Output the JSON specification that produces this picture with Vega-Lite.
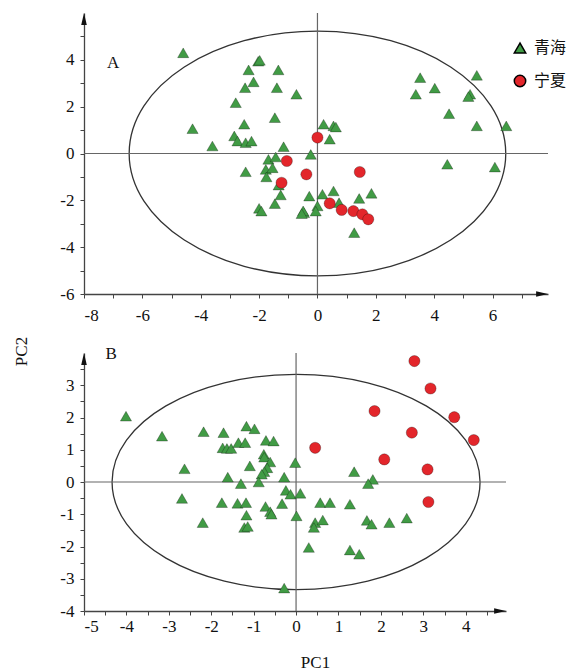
{
  "$schema": "https://vega.github.io/schema/vega-lite/v6.json",
  "background": "white",
  "padding": {"left": 12, "top": 12, "right": 5, "bottom": 2},
  "autosize": {"type": "pad"},
  "spacing": 59,
  "bounds": "flush",
  "config": {
    "view": {"stroke": null},
    "font": "Liberation Serif",
    "axis": {
      "grid": false,
      "domainColor": "#444",
      "domainWidth": 1.3,
      "tickColor": "#444",
      "tickWidth": 1,
      "tickSize": 4,
      "labelOverlap": false,
      "labelFont": "Liberation Serif",
      "labelFontSize": 17,
      "labelColor": "#111",
      "titleFont": "Liberation Serif",
      "titleFontSize": 17,
      "titleFontWeight": "normal",
      "titleColor": "#111"
    }
  },
  "datasets": {
    "one": [{}],
    "a": [
      {"pc1": -4.6, "pc2": 4.3, "group": "青海"},
      {"pc1": -4.28, "pc2": 1.06, "group": "青海"},
      {"pc1": -3.6, "pc2": 0.32, "group": "青海"},
      {"pc1": -2.8, "pc2": 2.17, "group": "青海"},
      {"pc1": -2.48, "pc2": 2.81, "group": "青海"},
      {"pc1": -2.19, "pc2": 3.06, "group": "青海"},
      {"pc1": -2.36, "pc2": 3.57, "group": "青海"},
      {"pc1": -2.03, "pc2": 3.94, "group": "青海"},
      {"pc1": -1.98, "pc2": 3.98, "group": "青海"},
      {"pc1": -1.34, "pc2": 3.57, "group": "青海"},
      {"pc1": -1.39, "pc2": 2.81, "group": "青海"},
      {"pc1": -0.72, "pc2": 2.53, "group": "青海"},
      {"pc1": -1.46, "pc2": 1.53, "group": "青海"},
      {"pc1": -2.51, "pc2": 1.25, "group": "青海"},
      {"pc1": -2.85, "pc2": 0.75, "group": "青海"},
      {"pc1": -2.74, "pc2": 0.53, "group": "青海"},
      {"pc1": -2.46, "pc2": 0.46, "group": "青海"},
      {"pc1": -2.26, "pc2": 0.53, "group": "青海"},
      {"pc1": -1.16, "pc2": 0.29, "group": "青海"},
      {"pc1": -0.23, "pc2": -0.04, "group": "青海"},
      {"pc1": 0.21, "pc2": 1.25, "group": "青海"},
      {"pc1": 0.55, "pc2": 1.18, "group": "青海"},
      {"pc1": 0.63, "pc2": 1.13, "group": "青海"},
      {"pc1": 0.42, "pc2": 0.61, "group": "青海"},
      {"pc1": 3.52, "pc2": 3.24, "group": "青海"},
      {"pc1": 3.37, "pc2": 2.53, "group": "青海"},
      {"pc1": 4.02, "pc2": 2.79, "group": "青海"},
      {"pc1": 5.46, "pc2": 3.34, "group": "青海"},
      {"pc1": 5.23, "pc2": 2.53, "group": "青海"},
      {"pc1": 5.17, "pc2": 2.43, "group": "青海"},
      {"pc1": 4.51, "pc2": 1.7, "group": "青海"},
      {"pc1": 5.46, "pc2": 1.18, "group": "青海"},
      {"pc1": 6.47, "pc2": 1.18, "group": "青海"},
      {"pc1": 4.45, "pc2": -0.46, "group": "青海"},
      {"pc1": 6.08, "pc2": -0.58, "group": "青海"},
      {"pc1": -0.28, "pc2": -1.82, "group": "青海"},
      {"pc1": 0.17, "pc2": -1.74, "group": "青海"},
      {"pc1": 0.55, "pc2": -1.6, "group": "青海"},
      {"pc1": 0.74, "pc2": -2.1, "group": "青海"},
      {"pc1": 1.43, "pc2": -1.92, "group": "青海"},
      {"pc1": 1.85, "pc2": -1.7, "group": "青海"},
      {"pc1": 0.0, "pc2": -2.24, "group": "青海"},
      {"pc1": -0.06, "pc2": -2.46, "group": "青海"},
      {"pc1": -0.46, "pc2": -2.53, "group": "青海"},
      {"pc1": 1.26, "pc2": -3.38, "group": "青海"},
      {"pc1": -1.68, "pc2": -0.25, "group": "青海"},
      {"pc1": -1.43, "pc2": -0.15, "group": "青海"},
      {"pc1": -2.46, "pc2": -0.78, "group": "青海"},
      {"pc1": -1.77, "pc2": -0.68, "group": "青海"},
      {"pc1": -1.54, "pc2": -0.61, "group": "青海"},
      {"pc1": -1.75, "pc2": -1.0, "group": "青海"},
      {"pc1": -1.33, "pc2": -1.35, "group": "青海"},
      {"pc1": -1.26, "pc2": -1.77, "group": "青海"},
      {"pc1": -1.46, "pc2": -2.14, "group": "青海"},
      {"pc1": -2.0, "pc2": -2.34, "group": "青海"},
      {"pc1": -1.92, "pc2": -2.46, "group": "青海"},
      {"pc1": -0.49, "pc2": -2.45, "group": "青海"},
      {"pc1": -0.54, "pc2": -2.57, "group": "青海"},
      {"pc1": 0.0, "pc2": 0.68, "group": "宁夏"},
      {"pc1": 1.45, "pc2": -0.79, "group": "宁夏"},
      {"pc1": -0.38, "pc2": -0.89, "group": "宁夏"},
      {"pc1": -1.05, "pc2": -0.32, "group": "宁夏"},
      {"pc1": -1.23, "pc2": -1.25, "group": "宁夏"},
      {"pc1": 0.42, "pc2": -2.13, "group": "宁夏"},
      {"pc1": 0.83, "pc2": -2.41, "group": "宁夏"},
      {"pc1": 1.23, "pc2": -2.46, "group": "宁夏"},
      {"pc1": 1.54, "pc2": -2.6, "group": "宁夏"},
      {"pc1": 1.74, "pc2": -2.81, "group": "宁夏"}
    ],
    "b": [
      {"pc1": -4.01, "pc2": 2.04, "group": "青海"},
      {"pc1": -3.16, "pc2": 1.42, "group": "青海"},
      {"pc1": -2.18, "pc2": 1.56, "group": "青海"},
      {"pc1": -1.71, "pc2": 1.53, "group": "青海"},
      {"pc1": -1.73, "pc2": 1.06, "group": "青海"},
      {"pc1": -1.63, "pc2": 1.04, "group": "青海"},
      {"pc1": -1.53, "pc2": 1.04, "group": "青海"},
      {"pc1": -1.36, "pc2": 1.22, "group": "青海"},
      {"pc1": -1.2, "pc2": 1.22, "group": "青海"},
      {"pc1": -1.17, "pc2": 1.73, "group": "青海"},
      {"pc1": -0.98, "pc2": 1.65, "group": "青海"},
      {"pc1": -0.71, "pc2": 1.29, "group": "青海"},
      {"pc1": -0.53, "pc2": 1.27, "group": "青海"},
      {"pc1": -0.76, "pc2": 0.86, "group": "青海"},
      {"pc1": -0.75, "pc2": 0.77, "group": "青海"},
      {"pc1": -0.61, "pc2": 0.62, "group": "青海"},
      {"pc1": -0.68, "pc2": 0.44, "group": "青海"},
      {"pc1": -0.75, "pc2": 0.32, "group": "青海"},
      {"pc1": -0.81, "pc2": 0.24, "group": "青海"},
      {"pc1": -1.09, "pc2": 0.5, "group": "青海"},
      {"pc1": -2.63, "pc2": 0.41, "group": "青海"},
      {"pc1": -1.61, "pc2": 0.15, "group": "青海"},
      {"pc1": -1.3, "pc2": -0.05, "group": "青海"},
      {"pc1": -0.88, "pc2": 0.0, "group": "青海"},
      {"pc1": -0.28, "pc2": 0.15, "group": "青海"},
      {"pc1": -0.02, "pc2": 0.6, "group": "青海"},
      {"pc1": -0.24, "pc2": -0.26, "group": "青海"},
      {"pc1": -0.13, "pc2": -0.38, "group": "青海"},
      {"pc1": 0.1, "pc2": -0.35, "group": "青海"},
      {"pc1": -2.69, "pc2": -0.51, "group": "青海"},
      {"pc1": -2.2, "pc2": -1.26, "group": "青海"},
      {"pc1": -1.75, "pc2": -0.64, "group": "青海"},
      {"pc1": -1.38, "pc2": -0.66, "group": "青海"},
      {"pc1": -1.18, "pc2": -0.64, "group": "青海"},
      {"pc1": -1.17, "pc2": -1.03, "group": "青海"},
      {"pc1": -1.22, "pc2": -1.41, "group": "青海"},
      {"pc1": -1.14, "pc2": -1.38, "group": "青海"},
      {"pc1": -0.72, "pc2": -0.76, "group": "青海"},
      {"pc1": -0.61, "pc2": -0.92, "group": "青海"},
      {"pc1": -0.58, "pc2": -1.0, "group": "青海"},
      {"pc1": -0.33, "pc2": -0.67, "group": "青海"},
      {"pc1": 0.01, "pc2": -1.05, "group": "青海"},
      {"pc1": 0.45, "pc2": -1.26, "group": "青海"},
      {"pc1": 0.63, "pc2": -1.18, "group": "青海"},
      {"pc1": 0.42, "pc2": -1.41, "group": "青海"},
      {"pc1": 0.3, "pc2": -2.03, "group": "青海"},
      {"pc1": -0.28, "pc2": -3.29, "group": "青海"},
      {"pc1": 0.57, "pc2": -0.64, "group": "青海"},
      {"pc1": 0.8, "pc2": -0.64, "group": "青海"},
      {"pc1": 1.27, "pc2": -0.69, "group": "青海"},
      {"pc1": 1.67, "pc2": -1.19, "group": "青海"},
      {"pc1": 1.78, "pc2": -1.31, "group": "青海"},
      {"pc1": 2.2, "pc2": -1.26, "group": "青海"},
      {"pc1": 2.61, "pc2": -1.12, "group": "青海"},
      {"pc1": 1.27, "pc2": -2.11, "group": "青海"},
      {"pc1": 1.49, "pc2": -2.24, "group": "青海"},
      {"pc1": 1.37, "pc2": 0.32, "group": "青海"},
      {"pc1": 1.81, "pc2": 0.08, "group": "青海"},
      {"pc1": 1.7, "pc2": -0.05, "group": "青海"},
      {"pc1": 2.79, "pc2": 3.75, "group": "宁夏"},
      {"pc1": 3.17, "pc2": 2.9, "group": "宁夏"},
      {"pc1": 1.85, "pc2": 2.2, "group": "宁夏"},
      {"pc1": 3.73, "pc2": 2.01, "group": "宁夏"},
      {"pc1": 2.73, "pc2": 1.53, "group": "宁夏"},
      {"pc1": 4.19, "pc2": 1.3, "group": "宁夏"},
      {"pc1": 0.45, "pc2": 1.06, "group": "宁夏"},
      {"pc1": 2.08, "pc2": 0.7, "group": "宁夏"},
      {"pc1": 3.1, "pc2": 0.39, "group": "宁夏"},
      {"pc1": 3.12, "pc2": -0.62, "group": "宁夏"}
    ]
  },
  "vconcat": [
    {
      "width": 464,
      "height": 281,
      "layer": [
        {
          "data": {"name": "one"},
          "mark": {"type": "point", "shape": "M -1 0 C -1 -0.359 -0.5523 -0.65 0 -0.65 C 0.5523 -0.65 1 -0.359 1 0 C 1 0.359 0.5523 0.65 0 0.65 C -0.5523 0.65 -1 0.359 -1 0 Z", "size": 141828, "filled": false, "stroke": "#333", "strokeWidth": 1.3, "opacity": 1},
          "encoding": {
            "x": {"datum": 0, "type": "quantitative", "scale": {"domain": [-8, 7.9], "nice": false, "zero": false}, "axis": {"title": null, "values": [-8, -7, -6, -5, -4, -3, -2, -1, 0, 1, 2, 3, 4, 5, 6, 7], "labelExpr": "datum.value % 2 === 0 ? '' + datum.value : ''", "labelOverlap": false, "labelFont": "Liberation Serif", "labelFontSize": 17, "labelPadding": 9}},
            "y": {"datum": 0, "type": "quantitative", "scale": {"domain": [-6, 6], "nice": false, "zero": false}, "axis": {"title": "PC2", "titleX": -63, "titleY": 338, "titleAngle": 270, "titleAlign": "center", "titleBaseline": "middle", "values": [-6, -5, -4, -3, -2, -1, 0, 1, 2, 3, 4, 5], "labelExpr": "datum.value % 2 === 0 ? '' + datum.value : ''", "labelOverlap": false, "labelFont": "Liberation Serif", "labelFontSize": 17, "labelPadding": 6}}
          }
        },
        {
          "data": {"name": "one"},
          "mark": {"type": "rule", "color": "#666", "strokeWidth": 1.2},
          "encoding": {
            "y": {"datum": 0, "type": "quantitative", "scale": {"domain": [-6, 6], "nice": false, "zero": false}, "axis": {"title": "PC2", "titleX": -63, "titleY": 338, "titleAngle": 270, "titleAlign": "center", "titleBaseline": "middle", "values": [-6, -5, -4, -3, -2, -1, 0, 1, 2, 3, 4, 5], "labelExpr": "datum.value % 2 === 0 ? '' + datum.value : ''", "labelOverlap": false, "labelFont": "Liberation Serif", "labelFontSize": 17, "labelPadding": 6}}
          }
        },
        {
          "data": {"name": "one"},
          "mark": {"type": "rule", "color": "#666", "strokeWidth": 1.2},
          "encoding": {
            "x": {"datum": 0, "type": "quantitative", "scale": {"domain": [-8, 7.9], "nice": false, "zero": false}, "axis": {"title": null, "values": [-8, -7, -6, -5, -4, -3, -2, -1, 0, 1, 2, 3, 4, 5, 6, 7], "labelExpr": "datum.value % 2 === 0 ? '' + datum.value : ''", "labelOverlap": false, "labelFont": "Liberation Serif", "labelFontSize": 17, "labelPadding": 9}}
          }
        },
        {
          "data": {"name": "a"},
          "mark": {"type": "point", "filled": true, "opacity": 1, "size": 125, "stroke": "#000", "strokeOpacity": 0.35, "strokeWidth": 0.8},
          "encoding": {
            "x": {"field": "pc1", "type": "quantitative", "scale": {"domain": [-8, 7.9], "nice": false, "zero": false}, "axis": {"title": null, "values": [-8, -7, -6, -5, -4, -3, -2, -1, 0, 1, 2, 3, 4, 5, 6, 7], "labelExpr": "datum.value % 2 === 0 ? '' + datum.value : ''", "labelOverlap": false, "labelFont": "Liberation Serif", "labelFontSize": 17, "labelPadding": 9}},
            "y": {"field": "pc2", "type": "quantitative", "scale": {"domain": [-6, 6], "nice": false, "zero": false}, "axis": {"title": "PC2", "titleX": -63, "titleY": 338, "titleAngle": 270, "titleAlign": "center", "titleBaseline": "middle", "values": [-6, -5, -4, -3, -2, -1, 0, 1, 2, 3, 4, 5], "labelExpr": "datum.value % 2 === 0 ? '' + datum.value : ''", "labelOverlap": false, "labelFont": "Liberation Serif", "labelFontSize": 17, "labelPadding": 6}},
            "shape": {
              "field": "group", "type": "nominal",
              "scale": {"domain": ["青海", "宁夏"], "range": ["triangle-up", "circle"]},
              "legend": {"title": null, "orient": "none", "legendX": 428, "legendY": 27, "labelFont": "Noto Sans CJK SC", "labelFontSize": 16, "labelColor": "#111", "symbolSize": 130, "rowPadding": 16, "labelOffset": 6}
            },
            "color": {
              "field": "group", "type": "nominal",
              "scale": {"domain": ["青海", "宁夏"], "range": ["#419b45", "#e3262b"]},
              "legend": {"title": null, "orient": "none", "legendX": 428, "legendY": 27, "labelFont": "Noto Sans CJK SC", "labelFontSize": 16, "labelColor": "#111", "symbolSize": 130, "rowPadding": 16, "labelOffset": 6}
            }
          }
        },
        {
          "data": {"name": "one"},
          "mark": {"type": "point", "shape": "M 0 -1 L -0.4 0.7 L 0.4 0.7 Z", "size": 196, "filled": true, "color": "#111", "opacity": 1, "yOffset": 7},
          "encoding": {
            "x": {"datum": -8, "type": "quantitative", "scale": {"domain": [-8, 7.9], "nice": false, "zero": false}, "axis": {"title": null, "values": [-8, -7, -6, -5, -4, -3, -2, -1, 0, 1, 2, 3, 4, 5, 6, 7], "labelExpr": "datum.value % 2 === 0 ? '' + datum.value : ''", "labelOverlap": false, "labelFont": "Liberation Serif", "labelFontSize": 17, "labelPadding": 9}},
            "y": {"datum": 6, "type": "quantitative", "scale": {"domain": [-6, 6], "nice": false, "zero": false}, "axis": {"title": "PC2", "titleX": -63, "titleY": 338, "titleAngle": 270, "titleAlign": "center", "titleBaseline": "middle", "values": [-6, -5, -4, -3, -2, -1, 0, 1, 2, 3, 4, 5], "labelExpr": "datum.value % 2 === 0 ? '' + datum.value : ''", "labelOverlap": false, "labelFont": "Liberation Serif", "labelFontSize": 17, "labelPadding": 6}}
          }
        },
        {
          "data": {"name": "one"},
          "mark": {"type": "point", "shape": "M 1 0 L -0.7 -0.4 L -0.7 0.4 Z", "size": 196, "filled": true, "color": "#111", "opacity": 1, "xOffset": -7},
          "encoding": {
            "x": {"datum": 7.9, "type": "quantitative", "scale": {"domain": [-8, 7.9], "nice": false, "zero": false}, "axis": {"title": null, "values": [-8, -7, -6, -5, -4, -3, -2, -1, 0, 1, 2, 3, 4, 5, 6, 7], "labelExpr": "datum.value % 2 === 0 ? '' + datum.value : ''", "labelOverlap": false, "labelFont": "Liberation Serif", "labelFontSize": 17, "labelPadding": 9}},
            "y": {"datum": -6, "type": "quantitative", "scale": {"domain": [-6, 6], "nice": false, "zero": false}, "axis": {"title": "PC2", "titleX": -63, "titleY": 338, "titleAngle": 270, "titleAlign": "center", "titleBaseline": "middle", "values": [-6, -5, -4, -3, -2, -1, 0, 1, 2, 3, 4, 5], "labelExpr": "datum.value % 2 === 0 ? '' + datum.value : ''", "labelOverlap": false, "labelFont": "Liberation Serif", "labelFontSize": 17, "labelPadding": 6}}
          }
        },
        {
          "data": {"name": "one"},
          "mark": {"type": "text", "font": "Liberation Serif", "fontSize": 17, "color": "#111", "align": "center", "baseline": "middle"},
          "encoding": {
            "x": {"datum": -7.0, "type": "quantitative", "scale": {"domain": [-8, 7.9], "nice": false, "zero": false}, "axis": {"title": null, "values": [-8, -7, -6, -5, -4, -3, -2, -1, 0, 1, 2, 3, 4, 5, 6, 7], "labelExpr": "datum.value % 2 === 0 ? '' + datum.value : ''", "labelOverlap": false, "labelFont": "Liberation Serif", "labelFontSize": 17, "labelPadding": 9}},
            "y": {"datum": 3.88, "type": "quantitative", "scale": {"domain": [-6, 6], "nice": false, "zero": false}, "axis": {"title": "PC2", "titleX": -63, "titleY": 338, "titleAngle": 270, "titleAlign": "center", "titleBaseline": "middle", "values": [-6, -5, -4, -3, -2, -1, 0, 1, 2, 3, 4, 5], "labelExpr": "datum.value % 2 === 0 ? '' + datum.value : ''", "labelOverlap": false, "labelFont": "Liberation Serif", "labelFontSize": 17, "labelPadding": 6}},
            "text": {"value": "A"}
          }
        }
      ]
    },
    {
      "width": 422,
      "height": 258,
      "layer": [
        {
          "data": {"name": "one"},
          "mark": {"type": "point", "shape": "M -1 0 C -1 -0.323 -0.5523 -0.585 0 -0.585 C 0.5523 -0.585 1 -0.323 1 0 C 1 0.323 0.5523 0.585 0 0.585 C -0.5523 0.585 -1 0.323 -1 0 Z", "size": 135424, "filled": false, "stroke": "#333", "strokeWidth": 1.3, "opacity": 1},
          "encoding": {
            "x": {"datum": 0, "type": "quantitative", "scale": {"domain": [-5, 4.95], "nice": false, "zero": false}, "axis": {"title": "PC1", "titleX": 231, "titleY": 51, "titleAlign": "center", "titleBaseline": "middle", "values": [-5, -4.5, -4, -3.5, -3, -2.5, -2, -1.5, -1, -0.5, 0, 0.5, 1, 1.5, 2, 2.5, 3, 3.5, 4, 4.5], "labelExpr": "datum.value % 1 === 0 ? '' + datum.value : ''", "labelOverlap": false, "labelFont": "Liberation Serif", "labelFontSize": 17, "labelPadding": 3}},
            "y": {"datum": 0, "type": "quantitative", "scale": {"domain": [-4, 4], "nice": false, "zero": false}, "axis": {"title": null, "values": [-4, -3.5, -3, -2.5, -2, -1.5, -1, -0.5, 0, 0.5, 1, 1.5, 2, 2.5, 3, 3.5], "labelExpr": "datum.value % 1 === 0 ? '' + datum.value : ''", "labelOverlap": false, "labelFont": "Liberation Serif", "labelFontSize": 17, "labelPadding": 6}}
          }
        },
        {
          "data": {"name": "one"},
          "mark": {"type": "rule", "color": "#666", "strokeWidth": 1.2},
          "encoding": {
            "y": {"datum": 0, "type": "quantitative", "scale": {"domain": [-4, 4], "nice": false, "zero": false}, "axis": {"title": null, "values": [-4, -3.5, -3, -2.5, -2, -1.5, -1, -0.5, 0, 0.5, 1, 1.5, 2, 2.5, 3, 3.5], "labelExpr": "datum.value % 1 === 0 ? '' + datum.value : ''", "labelOverlap": false, "labelFont": "Liberation Serif", "labelFontSize": 17, "labelPadding": 6}}
          }
        },
        {
          "data": {"name": "one"},
          "mark": {"type": "rule", "color": "#666", "strokeWidth": 1.2},
          "encoding": {
            "x": {"datum": 0, "type": "quantitative", "scale": {"domain": [-5, 4.95], "nice": false, "zero": false}, "axis": {"title": "PC1", "titleX": 231, "titleY": 51, "titleAlign": "center", "titleBaseline": "middle", "values": [-5, -4.5, -4, -3.5, -3, -2.5, -2, -1.5, -1, -0.5, 0, 0.5, 1, 1.5, 2, 2.5, 3, 3.5, 4, 4.5], "labelExpr": "datum.value % 1 === 0 ? '' + datum.value : ''", "labelOverlap": false, "labelFont": "Liberation Serif", "labelFontSize": 17, "labelPadding": 3}}
          }
        },
        {
          "data": {"name": "b"},
          "mark": {"type": "point", "filled": true, "opacity": 1, "size": 125, "stroke": "#000", "strokeOpacity": 0.35, "strokeWidth": 0.8},
          "encoding": {
            "x": {"field": "pc1", "type": "quantitative", "scale": {"domain": [-5, 4.95], "nice": false, "zero": false}, "axis": {"title": "PC1", "titleX": 231, "titleY": 51, "titleAlign": "center", "titleBaseline": "middle", "values": [-5, -4.5, -4, -3.5, -3, -2.5, -2, -1.5, -1, -0.5, 0, 0.5, 1, 1.5, 2, 2.5, 3, 3.5, 4, 4.5], "labelExpr": "datum.value % 1 === 0 ? '' + datum.value : ''", "labelOverlap": false, "labelFont": "Liberation Serif", "labelFontSize": 17, "labelPadding": 3}},
            "y": {"field": "pc2", "type": "quantitative", "scale": {"domain": [-4, 4], "nice": false, "zero": false}, "axis": {"title": null, "values": [-4, -3.5, -3, -2.5, -2, -1.5, -1, -0.5, 0, 0.5, 1, 1.5, 2, 2.5, 3, 3.5], "labelExpr": "datum.value % 1 === 0 ? '' + datum.value : ''", "labelOverlap": false, "labelFont": "Liberation Serif", "labelFontSize": 17, "labelPadding": 6}},
            "shape": {"field": "group", "type": "nominal", "scale": {"domain": ["青海", "宁夏"], "range": ["triangle-up", "circle"]}, "legend": null},
            "color": {"field": "group", "type": "nominal", "scale": {"domain": ["青海", "宁夏"], "range": ["#419b45", "#e3262b"]}, "legend": null}
          }
        },
        {
          "data": {"name": "one"},
          "mark": {"type": "point", "shape": "M 0 -1 L -0.4 0.7 L 0.4 0.7 Z", "size": 196, "filled": true, "color": "#111", "opacity": 1, "yOffset": 7},
          "encoding": {
            "x": {"datum": -5, "type": "quantitative", "scale": {"domain": [-5, 4.95], "nice": false, "zero": false}, "axis": {"title": "PC1", "titleX": 231, "titleY": 51, "titleAlign": "center", "titleBaseline": "middle", "values": [-5, -4.5, -4, -3.5, -3, -2.5, -2, -1.5, -1, -0.5, 0, 0.5, 1, 1.5, 2, 2.5, 3, 3.5, 4, 4.5], "labelExpr": "datum.value % 1 === 0 ? '' + datum.value : ''", "labelOverlap": false, "labelFont": "Liberation Serif", "labelFontSize": 17, "labelPadding": 3}},
            "y": {"datum": 4, "type": "quantitative", "scale": {"domain": [-4, 4], "nice": false, "zero": false}, "axis": {"title": null, "values": [-4, -3.5, -3, -2.5, -2, -1.5, -1, -0.5, 0, 0.5, 1, 1.5, 2, 2.5, 3, 3.5], "labelExpr": "datum.value % 1 === 0 ? '' + datum.value : ''", "labelOverlap": false, "labelFont": "Liberation Serif", "labelFontSize": 17, "labelPadding": 6}}
          }
        },
        {
          "data": {"name": "one"},
          "mark": {"type": "point", "shape": "M 1 0 L -0.7 -0.4 L -0.7 0.4 Z", "size": 196, "filled": true, "color": "#111", "opacity": 1, "xOffset": -7},
          "encoding": {
            "x": {"datum": 4.95, "type": "quantitative", "scale": {"domain": [-5, 4.95], "nice": false, "zero": false}, "axis": {"title": "PC1", "titleX": 231, "titleY": 51, "titleAlign": "center", "titleBaseline": "middle", "values": [-5, -4.5, -4, -3.5, -3, -2.5, -2, -1.5, -1, -0.5, 0, 0.5, 1, 1.5, 2, 2.5, 3, 3.5, 4, 4.5], "labelExpr": "datum.value % 1 === 0 ? '' + datum.value : ''", "labelOverlap": false, "labelFont": "Liberation Serif", "labelFontSize": 17, "labelPadding": 3}},
            "y": {"datum": -4, "type": "quantitative", "scale": {"domain": [-4, 4], "nice": false, "zero": false}, "axis": {"title": null, "values": [-4, -3.5, -3, -2.5, -2, -1.5, -1, -0.5, 0, 0.5, 1, 1.5, 2, 2.5, 3, 3.5], "labelExpr": "datum.value % 1 === 0 ? '' + datum.value : ''", "labelOverlap": false, "labelFont": "Liberation Serif", "labelFontSize": 17, "labelPadding": 6}}
          }
        },
        {
          "data": {"name": "one"},
          "mark": {"type": "text", "font": "Liberation Serif", "fontSize": 17, "color": "#111", "align": "center", "baseline": "middle"},
          "encoding": {
            "x": {"datum": -4.36, "type": "quantitative", "scale": {"domain": [-5, 4.95], "nice": false, "zero": false}, "axis": {"title": "PC1", "titleX": 231, "titleY": 51, "titleAlign": "center", "titleBaseline": "middle", "values": [-5, -4.5, -4, -3.5, -3, -2.5, -2, -1.5, -1, -0.5, 0, 0.5, 1, 1.5, 2, 2.5, 3, 3.5, 4, 4.5], "labelExpr": "datum.value % 1 === 0 ? '' + datum.value : ''", "labelOverlap": false, "labelFont": "Liberation Serif", "labelFontSize": 17, "labelPadding": 3}},
            "y": {"datum": 3.97, "type": "quantitative", "scale": {"domain": [-4, 4], "nice": false, "zero": false}, "axis": {"title": null, "values": [-4, -3.5, -3, -2.5, -2, -1.5, -1, -0.5, 0, 0.5, 1, 1.5, 2, 2.5, 3, 3.5], "labelExpr": "datum.value % 1 === 0 ? '' + datum.value : ''", "labelOverlap": false, "labelFont": "Liberation Serif", "labelFontSize": 17, "labelPadding": 6}},
            "text": {"value": "B"}
          }
        }
      ]
    }
  ]
}
